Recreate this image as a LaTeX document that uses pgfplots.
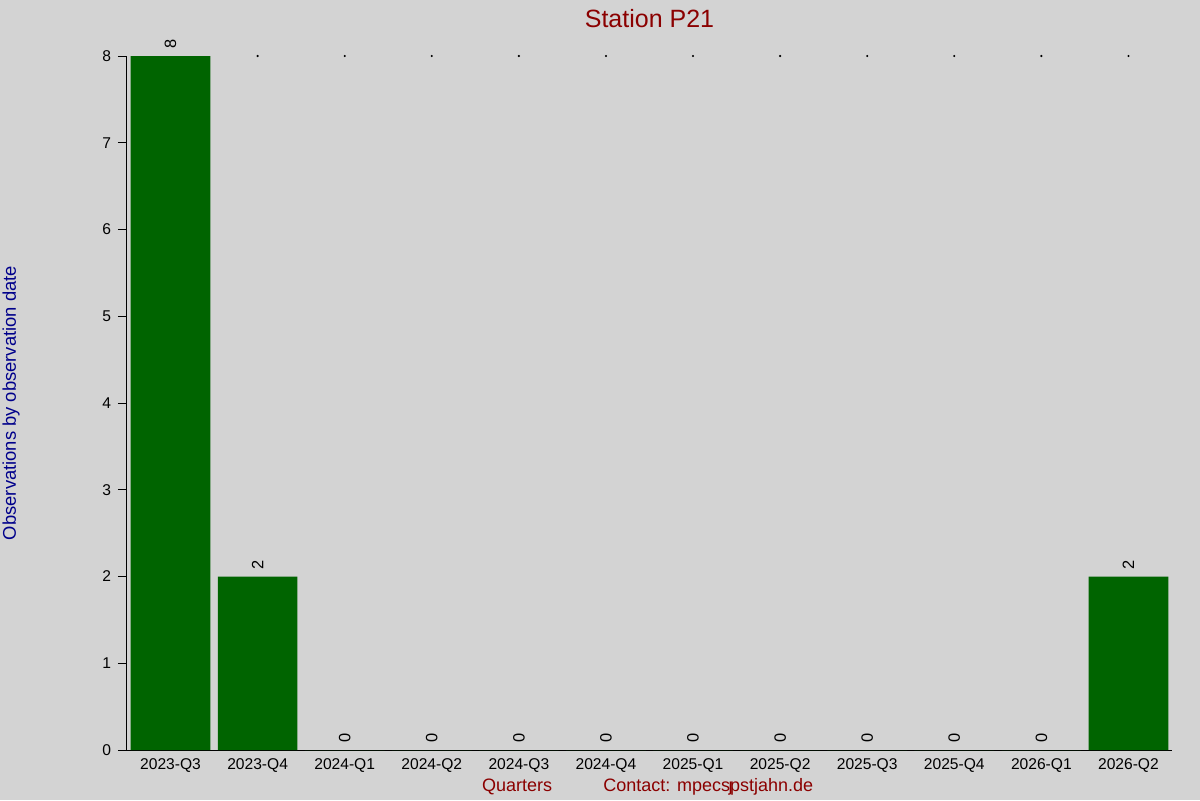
\documentclass[border=0pt]{standalone}
\usepackage{fontspec}
\setmainfont{Liberation Sans}
\usepackage{pgfplots}
\pgfplotsset{compat=1.18}
\definecolor{bg}{RGB}{211,211,211}
\definecolor{bargreen}{RGB}{0,100,0}
\definecolor{darkred}{RGB}{139,0,0}
\definecolor{darkblue}{RGB}{0,0,139}
\begin{document}
\begin{tikzpicture}
\fill[bg] (-63.5pt,-25pt) rectangle (536.5pt,375pt);
\begin{axis}[
	at={(0,0)}, anchor=south west,
	scale only axis,
	width=522.5pt, height=347pt,
	xmin=-0.5, xmax=11.5,
	ymin=0, ymax=8,
	axis x line*=bottom,
	axis y line*=left,
	axis line style={black, line width=0.5pt},
	xtick=data,
	xticklabels={2023-Q3,2023-Q4,2024-Q1,2024-Q2,2024-Q3,2024-Q4,2025-Q1,2025-Q2,2025-Q3,2025-Q4,2026-Q1,2026-Q2},
	xtick style={draw=none},
	ytick={0,1,...,8},
	ytick style={black, line width=0.5pt},
	tick align=outside,
	major tick length=4.5pt,
	tick label style={font=\fontsize{7.8pt}{9pt}\selectfont},
	/pgf/number format/assume math mode=true,
	xticklabel style={anchor=base, yshift=-5pt},
	ybar,
	bar width=0.915,
	nodes near coords,
	every node near coord/.append style={rotate=90, anchor=west, font=\fontsize{8.2pt}{9pt}\selectfont, black, xshift=0pt},
	clip=false,
]
\addplot[fill=bargreen, draw=none] coordinates {
	(0,8) (1,2) (2,0) (3,0) (4,0) (5,0) (6,0) (7,0) (8,0) (9,0) (10,0) (11,2)
};
\addplot[only marks, mark=*, mark size=0.3pt, black, nodes near coords={}, bar shift=0pt] coordinates {
	(1,8) (2,8) (3,8) (4,8) (5,8) (6,8) (7,8) (8,8) (9,8) (10,8) (11,8)
};
\node[anchor=base, text=darkred, font=\fontsize{12.5pt}{14pt}\selectfont] at (rel axis cs:0.5,1) [yshift=14.25pt] {Station P21};
\node[anchor=center, rotate=90, text=darkblue, font=\fontsize{9.2pt}{11pt}\selectfont] at (rel axis cs:-0.111,0.5) {Observations by observation date};
\node[anchor=base west, text=darkred, font=\fontsize{9pt}{11pt}\selectfont, inner sep=0pt] at (rel axis cs:0.3394,0) [yshift=-20.5pt] {Quarters};
\node[anchor=base west, text=darkred, font=\fontsize{9pt}{11pt}\selectfont, inner sep=0pt] at (rel axis cs:0.4555,0) [yshift=-20.5pt] {Contact: mpecs\makebox[0pt][r]{ȷ\kern-0.14em}pstjahn.de};
\end{axis}
\pgfresetboundingbox
\path (-63.5pt,-25pt) rectangle (536.5pt,375pt);
\end{tikzpicture}
\end{document}
